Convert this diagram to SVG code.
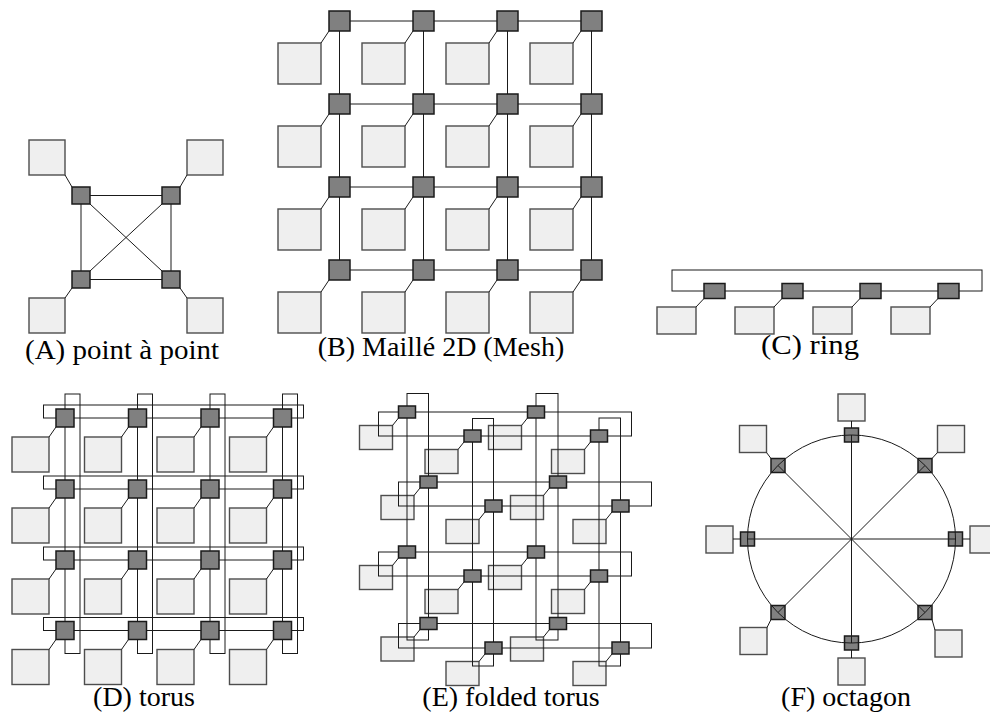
<svg xmlns="http://www.w3.org/2000/svg" width="990" height="717" viewBox="0 0 990 717">
<style>
.p{fill:#efefef;stroke:#4d4d4d;stroke-width:1.4}
.r{fill:#808080;stroke:#1a1a1a;stroke-width:1.5}
.c{fill:none;stroke:#1a1a1a;stroke-width:1}
</style>
<rect width="990" height="717" fill="#fff"/>

<!-- processors -->
<g id="A-p1"><rect class="p" x="29" y="140" width="36" height="35"/></g>
<g id="A-p2"><rect class="p" x="187" y="140" width="36" height="35"/></g>
<g id="A-p3"><rect class="p" x="29" y="298" width="36" height="35"/></g>
<g id="A-p4"><rect class="p" x="187" y="298" width="36" height="35"/></g>

<g id="B-p11"><rect class="p" x="278" y="43" width="43" height="41"/></g>
<g id="B-p12"><rect class="p" x="362" y="43" width="43" height="41"/></g>
<g id="B-p13"><rect class="p" x="446" y="43" width="43" height="41"/></g>
<g id="B-p14"><rect class="p" x="530" y="43" width="43" height="41"/></g>
<g id="B-p21"><rect class="p" x="278" y="126" width="43" height="41"/></g>
<g id="B-p22"><rect class="p" x="362" y="126" width="43" height="41"/></g>
<g id="B-p23"><rect class="p" x="446" y="126" width="43" height="41"/></g>
<g id="B-p24"><rect class="p" x="530" y="126" width="43" height="41"/></g>
<g id="B-p31"><rect class="p" x="278" y="209" width="43" height="41"/></g>
<g id="B-p32"><rect class="p" x="362" y="209" width="43" height="41"/></g>
<g id="B-p33"><rect class="p" x="446" y="209" width="43" height="41"/></g>
<g id="B-p34"><rect class="p" x="530" y="209" width="43" height="41"/></g>
<g id="B-p41"><rect class="p" x="278" y="292" width="43" height="41"/></g>
<g id="B-p42"><rect class="p" x="362" y="292" width="43" height="41"/></g>
<g id="B-p43"><rect class="p" x="446" y="292" width="43" height="41"/></g>
<g id="B-p44"><rect class="p" x="530" y="292" width="43" height="41"/></g>

<g id="C-p1"><rect class="p" x="657" y="307" width="39" height="27"/></g>
<g id="C-p2"><rect class="p" x="735" y="307" width="39" height="27"/></g>
<g id="C-p3"><rect class="p" x="813" y="307" width="39" height="27"/></g>
<g id="C-p4"><rect class="p" x="891" y="307" width="39" height="27"/></g>

<g id="D-p11"><rect class="p" x="12" y="437" width="37" height="35"/></g>
<g id="D-p12"><rect class="p" x="84.5" y="437" width="37" height="35"/></g>
<g id="D-p13"><rect class="p" x="157" y="437" width="37" height="35"/></g>
<g id="D-p14"><rect class="p" x="229.5" y="437" width="37" height="35"/></g>
<g id="D-p21"><rect class="p" x="12" y="508" width="37" height="35"/></g>
<g id="D-p22"><rect class="p" x="84.5" y="508" width="37" height="35"/></g>
<g id="D-p23"><rect class="p" x="157" y="508" width="37" height="35"/></g>
<g id="D-p24"><rect class="p" x="229.5" y="508" width="37" height="35"/></g>
<g id="D-p31"><rect class="p" x="12" y="579" width="37" height="35"/></g>
<g id="D-p32"><rect class="p" x="84.5" y="579" width="37" height="35"/></g>
<g id="D-p33"><rect class="p" x="157" y="579" width="37" height="35"/></g>
<g id="D-p34"><rect class="p" x="229.5" y="579" width="37" height="35"/></g>
<g id="D-p41"><rect class="p" x="12" y="649.5" width="37" height="35"/></g>
<g id="D-p42"><rect class="p" x="84.5" y="649.5" width="37" height="35"/></g>
<g id="D-p43"><rect class="p" x="157" y="649.5" width="37" height="35"/></g>
<g id="D-p44"><rect class="p" x="229.5" y="649.5" width="37" height="35"/></g>

<g id="E-p1"><rect class="p" x="359.5" y="425.5" width="33" height="24"/></g>
<g id="E-p2"><rect class="p" x="425" y="449.5" width="33" height="24"/></g>
<g id="E-p3"><rect class="p" x="488.5" y="425.5" width="33" height="24"/></g>
<g id="E-p4"><rect class="p" x="551.5" y="449.5" width="33" height="24"/></g>
<g id="E-p5"><rect class="p" x="381" y="495.5" width="33" height="24"/></g>
<g id="E-p6"><rect class="p" x="446" y="519.5" width="33" height="24"/></g>
<g id="E-p7"><rect class="p" x="510.5" y="495.5" width="33" height="24"/></g>
<g id="E-p8"><rect class="p" x="573" y="519.5" width="33" height="24"/></g>
<g id="E-p9"><rect class="p" x="359.5" y="565.5" width="33" height="24"/></g>
<g id="E-p10"><rect class="p" x="425" y="589.5" width="33" height="24"/></g>
<g id="E-p11"><rect class="p" x="488.5" y="565.5" width="33" height="24"/></g>
<g id="E-p12"><rect class="p" x="551.5" y="589.5" width="33" height="24"/></g>
<g id="E-p13"><rect class="p" x="381" y="637" width="33" height="24"/></g>
<g id="E-p14"><rect class="p" x="446" y="661.5" width="33" height="24"/></g>
<g id="E-p15"><rect class="p" x="510.5" y="637" width="33" height="24"/></g>
<g id="E-p16"><rect class="p" x="573" y="661.5" width="33" height="24"/></g>

<g id="F-pN"><rect class="p" x="838" y="394" width="27" height="27"/></g>
<g id="F-pNE"><rect class="p" x="937.5" y="425.5" width="27" height="27"/></g>
<g id="F-pE"><rect class="p" x="970" y="526" width="27" height="27"/></g>
<g id="F-pSE"><rect class="p" x="935" y="630" width="27" height="27"/></g>
<g id="F-pS"><rect class="p" x="838" y="658" width="27" height="27"/></g>
<g id="F-pSW"><rect class="p" x="740" y="627.5" width="27" height="27"/></g>
<g id="F-pW"><rect class="p" x="706" y="526" width="27" height="27"/></g>
<g id="F-pNW"><rect class="p" x="739.5" y="425.5" width="27" height="27"/></g>

<!-- F routers (connectors drawn over them) -->
<g id="F-rN"><rect class="r" x="844.5" y="428" width="14" height="14"/></g>
<g id="F-rNE"><rect class="r" x="918" y="458.5" width="14" height="14"/></g>
<g id="F-rE"><rect class="r" x="948.5" y="532" width="14" height="14"/></g>
<g id="F-rSE"><rect class="r" x="918" y="605.5" width="14" height="14"/></g>
<g id="F-rS"><rect class="r" x="844.5" y="636" width="14" height="14"/></g>
<g id="F-rSW"><rect class="r" x="771" y="605.5" width="14" height="14"/></g>
<g id="F-rW"><rect class="r" x="740.5" y="532" width="14" height="14"/></g>
<g id="F-rNW"><rect class="r" x="771" y="458.5" width="14" height="14"/></g>

<!-- connectors -->
<g id="connectors" class="c">
  <!-- A -->
  <line x1="65" y1="175" x2="72" y2="187"/>
  <line x1="187" y1="175" x2="180" y2="187"/>
  <line x1="65" y1="298" x2="72" y2="288"/>
  <line x1="187" y1="298" x2="180" y2="288"/>
  <line x1="90" y1="195.5" x2="162" y2="195.5"/>
  <line x1="90" y1="279.5" x2="162" y2="279.5"/>
  <line x1="81" y1="204" x2="81" y2="271"/>
  <line x1="171" y1="204" x2="171" y2="271"/>
  <line x1="90" y1="204" x2="162" y2="271"/>
  <line x1="162" y1="204" x2="90" y2="271"/>
  <!-- B -->
  <line x1="339.5" y1="21" x2="591.5" y2="21"/>
  <line x1="339.5" y1="104" x2="591.5" y2="104"/>
  <line x1="339.5" y1="187" x2="591.5" y2="187"/>
  <line x1="339.5" y1="270" x2="591.5" y2="270"/>
  <line x1="339.5" y1="21" x2="339.5" y2="270"/>
  <line x1="423.5" y1="21" x2="423.5" y2="270"/>
  <line x1="507.5" y1="21" x2="507.5" y2="270"/>
  <line x1="591.5" y1="21" x2="591.5" y2="270"/>
  <line x1="321" y1="43" x2="329" y2="31"/><line x1="405" y1="43" x2="413" y2="31"/><line x1="489" y1="43" x2="497" y2="31"/><line x1="573" y1="43" x2="581" y2="31"/>
  <line x1="321" y1="126" x2="329" y2="114"/><line x1="405" y1="126" x2="413" y2="114"/><line x1="489" y1="126" x2="497" y2="114"/><line x1="573" y1="126" x2="581" y2="114"/>
  <line x1="321" y1="209" x2="329" y2="197"/><line x1="405" y1="209" x2="413" y2="197"/><line x1="489" y1="209" x2="497" y2="197"/><line x1="573" y1="209" x2="581" y2="197"/>
  <line x1="321" y1="292" x2="329" y2="280"/><line x1="405" y1="292" x2="413" y2="280"/><line x1="489" y1="292" x2="497" y2="280"/><line x1="573" y1="292" x2="581" y2="280"/>
  <!-- C -->
  <rect x="672" y="270" width="310" height="21"/>
  <line x1="696" y1="307" x2="704" y2="298.5"/><line x1="774" y1="307" x2="782" y2="298.5"/><line x1="852" y1="307" x2="860" y2="298.5"/><line x1="930" y1="307" x2="938" y2="298.5"/>
  <!-- D -->
  <rect x="43.5" y="405" width="260" height="13"/>
  <rect x="43.5" y="476" width="260" height="13"/>
  <rect x="43.5" y="547" width="260" height="13"/>
  <rect x="43.5" y="617.5" width="260" height="13"/>
  <rect x="65" y="394" width="15" height="259.5"/>
  <rect x="137.5" y="394" width="15" height="259.5"/>
  <rect x="210" y="394" width="15" height="259.5"/>
  <rect x="282.5" y="394" width="15" height="259.5"/>
  <line x1="49" y1="437" x2="56" y2="427"/><line x1="121.5" y1="437" x2="128.5" y2="427"/><line x1="194" y1="437" x2="201" y2="427"/><line x1="266.5" y1="437" x2="273.5" y2="427"/>
  <line x1="49" y1="508" x2="56" y2="498"/><line x1="121.5" y1="508" x2="128.5" y2="498"/><line x1="194" y1="508" x2="201" y2="498"/><line x1="266.5" y1="508" x2="273.5" y2="498"/>
  <line x1="49" y1="579" x2="56" y2="569"/><line x1="121.5" y1="579" x2="128.5" y2="569"/><line x1="194" y1="579" x2="201" y2="569"/><line x1="266.5" y1="579" x2="273.5" y2="569"/>
  <line x1="49" y1="649.5" x2="56" y2="639.5"/><line x1="121.5" y1="649.5" x2="128.5" y2="639.5"/><line x1="194" y1="649.5" x2="201" y2="639.5"/><line x1="266.5" y1="649.5" x2="273.5" y2="639.5"/>
  <!-- E -->
  <rect x="378.5" y="412" width="253" height="24"/>
  <rect x="398.5" y="482" width="253" height="24"/>
  <rect x="378.5" y="552" width="253" height="24"/>
  <rect x="398.5" y="623.5" width="253" height="24.5"/>
  <rect x="407" y="393.5" width="21.5" height="246.5"/>
  <rect x="472.5" y="418.5" width="21" height="247.5"/>
  <rect x="536" y="393.5" width="22" height="246.5"/>
  <rect x="599" y="418" width="21.5" height="248"/>
  <line x1="392.5" y1="425.5" x2="398.5" y2="418"/><line x1="458" y1="449.5" x2="464" y2="442"/><line x1="521.5" y1="425.5" x2="527.5" y2="418"/><line x1="584.5" y1="449.5" x2="590.5" y2="442"/>
  <line x1="414" y1="495.5" x2="420" y2="488"/><line x1="479" y1="519.5" x2="485" y2="512"/><line x1="543.5" y1="495.5" x2="549.5" y2="488"/><line x1="606" y1="519.5" x2="612" y2="512"/>
  <line x1="392.5" y1="565.5" x2="398.5" y2="558"/><line x1="458" y1="589.5" x2="464" y2="582"/><line x1="521.5" y1="565.5" x2="527.5" y2="558"/><line x1="584.5" y1="589.5" x2="590.5" y2="582"/>
  <line x1="414" y1="637" x2="420" y2="629.5"/><line x1="479" y1="661.5" x2="485" y2="654"/><line x1="543.5" y1="637" x2="549.5" y2="629.5"/><line x1="606" y1="661.5" x2="612" y2="654"/>
  <!-- F -->
  <circle cx="851.5" cy="539" r="104"/>
  <line x1="851.5" y1="435" x2="851.5" y2="643"/>
  <line x1="747.5" y1="539" x2="955.5" y2="539"/>
  <line x1="778" y1="465.5" x2="925" y2="612.5"/>
  <line x1="925" y1="465.5" x2="778" y2="612.5"/>
  <line x1="851.5" y1="421" x2="851.5" y2="428"/>
  <line x1="851.5" y1="650" x2="851.5" y2="658"/>
  <line x1="733" y1="539" x2="740.5" y2="539"/>
  <line x1="962.5" y1="539" x2="970" y2="539"/>
  <line x1="937.5" y1="452.5" x2="932" y2="458.5"/>
  <line x1="766.5" y1="452.5" x2="771" y2="458.5"/>
  <line x1="932" y1="619.5" x2="935" y2="630"/>
  <line x1="767" y1="627.5" x2="771" y2="619.5"/>
</g>

<!-- routers -->
<g id="A-r1"><rect class="r" x="72" y="187" width="18" height="17"/></g>
<g id="A-r2"><rect class="r" x="162" y="187" width="18" height="17"/></g>
<g id="A-r3"><rect class="r" x="72" y="271" width="18" height="17"/></g>
<g id="A-r4"><rect class="r" x="162" y="271" width="18" height="17"/></g>

<g id="B-r11"><rect class="r" x="329" y="11" width="21" height="20"/></g>
<g id="B-r12"><rect class="r" x="413" y="11" width="21" height="20"/></g>
<g id="B-r13"><rect class="r" x="497" y="11" width="21" height="20"/></g>
<g id="B-r14"><rect class="r" x="581" y="11" width="21" height="20"/></g>
<g id="B-r21"><rect class="r" x="329" y="94" width="21" height="20"/></g>
<g id="B-r22"><rect class="r" x="413" y="94" width="21" height="20"/></g>
<g id="B-r23"><rect class="r" x="497" y="94" width="21" height="20"/></g>
<g id="B-r24"><rect class="r" x="581" y="94" width="21" height="20"/></g>
<g id="B-r31"><rect class="r" x="329" y="177" width="21" height="20"/></g>
<g id="B-r32"><rect class="r" x="413" y="177" width="21" height="20"/></g>
<g id="B-r33"><rect class="r" x="497" y="177" width="21" height="20"/></g>
<g id="B-r34"><rect class="r" x="581" y="177" width="21" height="20"/></g>
<g id="B-r41"><rect class="r" x="329" y="260" width="21" height="20"/></g>
<g id="B-r42"><rect class="r" x="413" y="260" width="21" height="20"/></g>
<g id="B-r43"><rect class="r" x="497" y="260" width="21" height="20"/></g>
<g id="B-r44"><rect class="r" x="581" y="260" width="21" height="20"/></g>

<g id="C-r1"><rect class="r" x="704" y="283.5" width="21" height="15"/></g>
<g id="C-r2"><rect class="r" x="782" y="283.5" width="21" height="15"/></g>
<g id="C-r3"><rect class="r" x="860" y="283.5" width="21" height="15"/></g>
<g id="C-r4"><rect class="r" x="938" y="283.5" width="21" height="15"/></g>

<g id="D-r11"><rect class="r" x="56" y="409" width="18" height="18"/></g>
<g id="D-r12"><rect class="r" x="128.5" y="409" width="18" height="18"/></g>
<g id="D-r13"><rect class="r" x="201" y="409" width="18" height="18"/></g>
<g id="D-r14"><rect class="r" x="273.5" y="409" width="18" height="18"/></g>
<g id="D-r21"><rect class="r" x="56" y="480" width="18" height="18"/></g>
<g id="D-r22"><rect class="r" x="128.5" y="480" width="18" height="18"/></g>
<g id="D-r23"><rect class="r" x="201" y="480" width="18" height="18"/></g>
<g id="D-r24"><rect class="r" x="273.5" y="480" width="18" height="18"/></g>
<g id="D-r31"><rect class="r" x="56" y="551" width="18" height="18"/></g>
<g id="D-r32"><rect class="r" x="128.5" y="551" width="18" height="18"/></g>
<g id="D-r33"><rect class="r" x="201" y="551" width="18" height="18"/></g>
<g id="D-r34"><rect class="r" x="273.5" y="551" width="18" height="18"/></g>
<g id="D-r41"><rect class="r" x="56" y="621.5" width="18" height="18"/></g>
<g id="D-r42"><rect class="r" x="128.5" y="621.5" width="18" height="18"/></g>
<g id="D-r43"><rect class="r" x="201" y="621.5" width="18" height="18"/></g>
<g id="D-r44"><rect class="r" x="273.5" y="621.5" width="18" height="18"/></g>

<g id="E-r1"><rect class="r" x="398.5" y="406" width="17" height="12"/></g>
<g id="E-r2"><rect class="r" x="464" y="430" width="17" height="12"/></g>
<g id="E-r3"><rect class="r" x="527.5" y="406" width="17" height="12"/></g>
<g id="E-r4"><rect class="r" x="590.5" y="430" width="17" height="12"/></g>
<g id="E-r5"><rect class="r" x="420" y="476" width="17" height="12"/></g>
<g id="E-r6"><rect class="r" x="485" y="500" width="17" height="12"/></g>
<g id="E-r7"><rect class="r" x="549.5" y="476" width="17" height="12"/></g>
<g id="E-r8"><rect class="r" x="612" y="500" width="17" height="12"/></g>
<g id="E-r9"><rect class="r" x="398.5" y="546" width="17" height="12"/></g>
<g id="E-r10"><rect class="r" x="464" y="570" width="17" height="12"/></g>
<g id="E-r11"><rect class="r" x="527.5" y="546" width="17" height="12"/></g>
<g id="E-r12"><rect class="r" x="590.5" y="570" width="17" height="12"/></g>
<g id="E-r13"><rect class="r" x="420" y="617.5" width="17" height="12"/></g>
<g id="E-r14"><rect class="r" x="485" y="642" width="17" height="12"/></g>
<g id="E-r15"><rect class="r" x="549.5" y="617.5" width="17" height="12"/></g>
<g id="E-r16"><rect class="r" x="612" y="642" width="17" height="12"/></g>

<!-- labels -->
<g id="labels" font-family="'Liberation Serif', 'Times New Roman', serif" font-size="28" fill="#000" text-anchor="middle">
  <text x="122" y="359" textLength="194" lengthAdjust="spacingAndGlyphs">(A) point à point</text>
  <text x="441" y="356">(B) Maillé 2D (Mesh)</text>
  <text x="810" y="354" textLength="98" lengthAdjust="spacingAndGlyphs">(C) ring</text>
  <text x="144" y="706">(D) torus</text>
  <text x="511" y="706">(E) folded torus</text>
  <text x="846" y="706">(F) octagon</text>
</g>
</svg>
